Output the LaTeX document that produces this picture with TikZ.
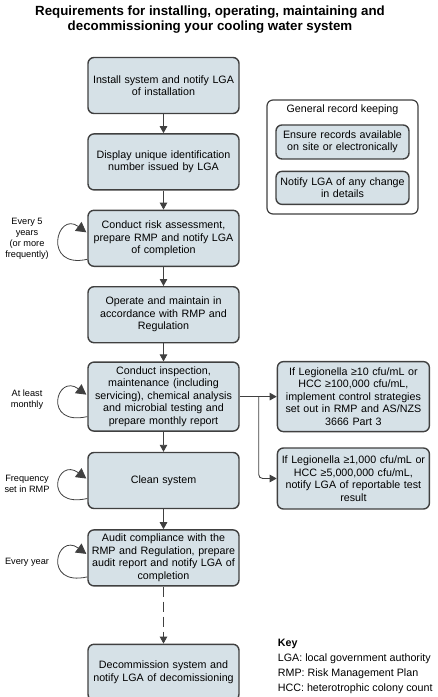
\documentclass[tikz,border=0pt]{standalone}
\usepackage{fontspec}
\setmainfont{Liberation Sans}
\usetikzlibrary{positioning,arrows.meta}
\definecolor{boxfill}{RGB}{214,225,231}
\definecolor{boxline}{RGB}{64,64,64}
\begin{document}
\begin{tikzpicture}[x=1pt,y=1pt,node distance=19pt,
	box/.style={draw=boxline,line width=1.4pt,fill=boxfill,rounded corners=6pt,
		minimum width=151pt,minimum height=56pt,text width=144pt,align=center,
		inner sep=0pt,font=\fontsize{10.7}{12.5}\selectfont},
	sidebox/.style={box,minimum width=152pt,text width=148pt},
	smallbox/.style={box,minimum width=133pt,minimum height=34pt,text width=130pt},
	note/.style={align=center,inner sep=0pt,font=\fontsize{9.2}{11}\selectfont},
	arr/.style={draw=boxline,line width=0.9pt,-{Triangle[length=7pt,width=7.5pt]}},
	again/.style={draw=boxline,line width=0.8pt,-{Triangle[length=10pt,width=11pt]}}]
\useasboundingbox (0,0) rectangle (438,-697);
\node[align=center,inner sep=0pt,font=\bfseries\fontsize{13.3}{15}\selectfont] (title) at (210,-19.5)
	{Requirements for installing, operating, maintaining and\\decommissioning your cooling water system};
% main column
\node[box] (install) at (163.5,-85.5) {Install system and notify LGA\\of installation};
\node[box,below=of install] (display) {Display unique identification\\number issued by LGA};
\node[box,below=of display] (risk) {Conduct risk assessment,\\prepare RMP and notify LGA\\of completion};
\node[box,below=of risk] (operate) {Operate and maintain in\\accordance with RMP and\\Regulation};
\node[box,below=18pt of operate,minimum height=69pt] (inspect) {Conduct inspection,\\maintenance (including\\servicing), chemical analysis\\and microbial testing and\\prepare monthly report};
\node[box,below=20pt of inspect] (clean) {Clean system};
\node[box,below=20pt of clean] (audit) {Audit compliance with the\\RMP and Regulation, prepare\\audit report and notify LGA of\\completion};
\node[box,below=57pt of audit] (decom) {Decommission system and\\notify LGA of decomissioning};
% record keeping
\node[draw=boxline,line width=1.2pt,fill=white,rounded corners=6pt,minimum width=151pt,minimum height=114pt] (general) at (342.5,-157) {};
\node[inner sep=0pt,font=\fontsize{10.7}{12.5}\selectfont,below=5pt of general.north] (genlabel) {General record keeping};
\node[smallbox,below=9.5pt of genlabel] (ensure) {Ensure records available\\on site or electronically};
\node[smallbox,below=11pt of ensure,minimum height=33pt] (change) {Notify LGA of any change\\in details};
% test results
\node[sidebox,right=37pt of inspect,minimum height=70pt] (action) {If Legionella ≥10 cfu/mL or\\HCC ≥100,000 cfu/mL,\\implement control strategies\\set out in RMP and AS/NZS\\3666 Part 3};
\node[sidebox,below=15pt of action,minimum height=61pt] (report) {If Legionella ≥1,000 cfu/mL or\\HCC ≥5,000,000 cfu/mL,\\notify LGA of reportable test\\result};
\coordinate[right=19pt of inspect.east] (split);
% key
\node[align=left,inner sep=0pt,font=\fontsize{10.7}{15.2}\selectfont,right=38pt of decom,yshift=6pt] (key)
	{\textbf{Key}\\LGA: local government authority\\RMP: Risk Management Plan\\HCC: heterotrophic colony count};
% frequencies
\coordinate (col) at (27,0);
\node[note] (riskfreq) at (col |- risk) {Every 5\\years\\(or more\\frequently)};
\node[note,yshift=-3pt] (inspectfreq) at (col |- inspect) {At least\\monthly};
\node[note,yshift=-3pt] (cleanfreq) at (col |- clean) {Frequency\\set in RMP};
\node[note,yshift=-4pt] (auditfreq) at (col |- audit) {Every year};
% connectors
\draw[arr] (install) -- (display);
\draw[arr] (display) -- (risk);
\draw[arr] (risk) -- (operate);
\draw[arr] (operate) -- (inspect);
\draw[arr] (inspect) -- (clean);
\draw[arr] (clean) -- (audit);
\draw[arr,dash pattern=on 10pt off 5pt] (audit) -- (decom);
\draw[arr] (inspect.east) -- (action.west);
\draw[arr,rounded corners=4pt] (split) |- (report.west);
\draw[again] ([yshift=-21pt]risk.west) .. controls +(-45,-10) and +(-30,22) .. ([shift={(-1pt,6pt)}]risk.west);
\draw[again] ([yshift=-20pt]inspect.west) .. controls +(-45,-10) and +(-30,22) .. ([shift={(-1pt,2pt)}]inspect.west);
\draw[again] ([yshift=-18pt]clean.west) .. controls +(-45,-10) and +(-30,22) .. ([shift={(-1pt,2pt)}]clean.west);
\draw[again] ([yshift=-19pt]audit.west) .. controls +(-45,-10) and +(-30,22) .. ([shift={(-1pt,4pt)}]audit.west);
\end{tikzpicture}
\end{document}
